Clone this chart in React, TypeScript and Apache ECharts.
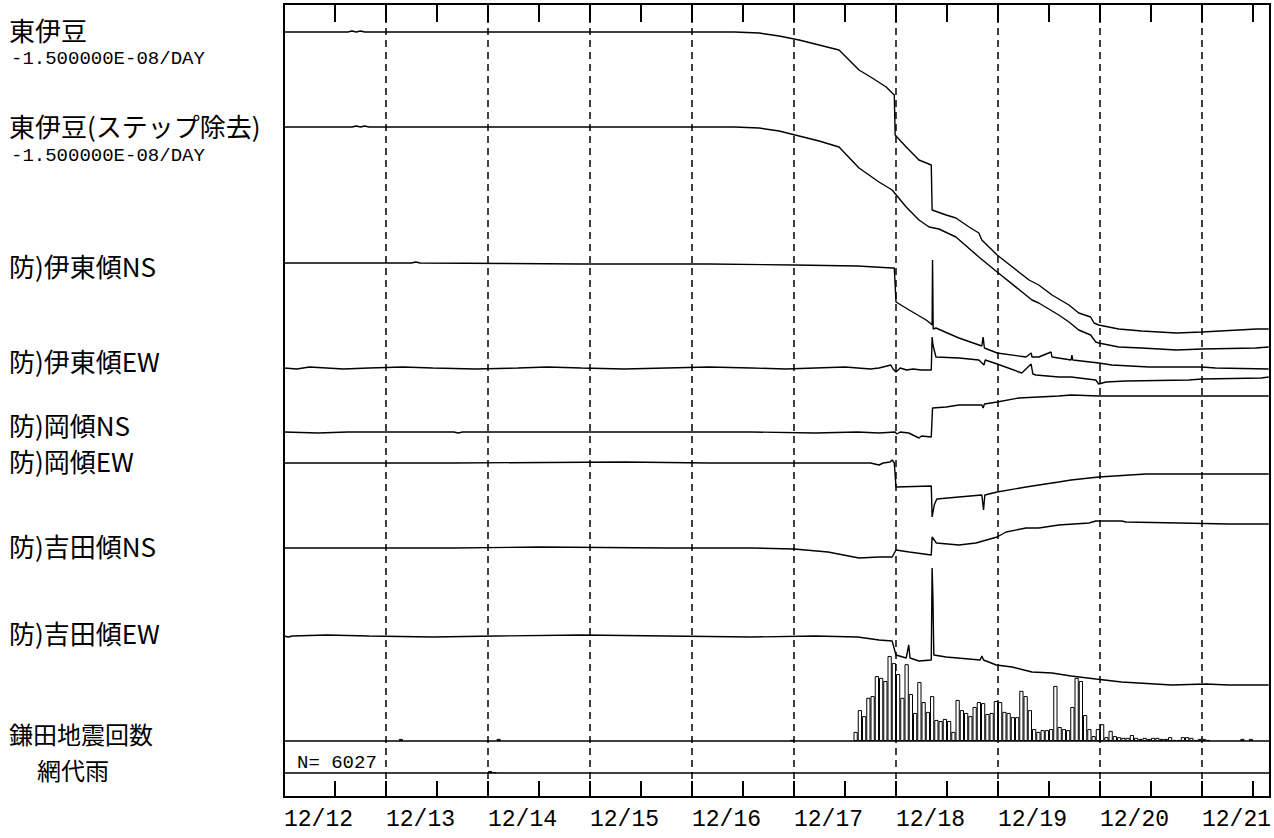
import React, { useEffect, useRef } from "react";
import * as echarts from "echarts";

// ---------- data ----------
// time axis: hours since 12/12 00:00
const HOUR_MIN = 0;
const HOUR_MAX = 232;
const DAY_LABELS = ["12/12", "12/13", "12/14", "12/15", "12/16", "12/17", "12/18", "12/19", "12/20", "12/21"];

// traces: [hour, change] (change relative to start, upward positive)
const higashiIzu: number[][] = [
  [0, 0], [15, 0], [16, 1], [17, 0], [18, 1], [19, 0], [40, 0], [60, 0], [80, 0], [95, 0], [106, 0],
  [111.8, -1], [116.5, -4], [121.2, -8], [125.9, -13], [130.6, -18], [135.3, -38], [138.4, -46],
  [141.7, -55], [143.1, -61], [143.6, -63], [143.8, -103], [146.4, -115], [149.4, -128], [152.3, -133],
  [152.5, -178], [155.8, -183], [158.1, -186], [161.2, -195], [163.5, -201], [164.2, -208],
  [167.8, -223], [175.3, -248], [177.6, -253], [180.7, -263], [184.7, -273], [187, -281],
  [189.8, -285], [190.6, -291], [191.7, -293], [196.4, -297], [201.8, -299], [210, -301],
  [216, -300], [228.9, -297], [231.7, -297],
];
const higashiIzuStep: number[][] = [
  [0, 0], [16, 0], [17, 1], [18, 0], [19, 1], [20, 0], [50, 0], [80, 0], [106, 0],
  [111.8, -1], [116.5, -4], [121.2, -9], [125.9, -14], [130.6, -20], [135.3, -41], [140, -55],
  [143.1, -63], [146.4, -80], [149.4, -93], [151.8, -100], [154.1, -102], [158.1, -110],
  [163.5, -130], [167.8, -145], [176, -173], [177.6, -176], [182.3, -188], [184.7, -195],
  [187, -203], [189.8, -208], [191, -215], [191.7, -216], [196.4, -220], [201.8, -221],
  [210, -223], [216, -222], [228.6, -221], [231.7, -220],
];
const itoNS: number[][] = [
  [0, 0], [30, 0], [31, 1], [32, 0], [70, -1], [100, -1], [120, -2], [135, -3], [143.1, -5],
  [143.6, -5], [144, -39], [147.1, -47], [151.1, -57], [152.3, -61], [152.5, -62], [152.6, 3],
  [152.75, -66], [153.4, -65], [158.8, -75], [164.2, -83], [164.5, -74], [164.8, -85],
  [167.8, -90], [174.6, -94], [175.8, -90], [176, -94], [177.6, -94], [180.5, -89], [180.7, -94],
  [185.2, -97], [185.4, -92], [185.6, -97], [191.7, -100], [194.8, -102], [203.5, -104],
  [216, -104], [219.2, -105], [231.7, -106],
];
const itoEW: number[][] = [
  [0, 0], [3, -1], [6, 1], [10, 0], [14, -1], [20, 0], [28, 1], [35, 0], [45, -1], [55, 0],
  [62, 1], [70, 0], [80, -1], [90, 0], [100, 1], [110, 0], [118, -1], [125, 0], [132, 1],
  [138, -1], [140, 0], [142.8, 3], [143.3, -1], [144, -4], [145, 0], [146.5, -2], [148, -1],
  [150, -2], [152.3, -2], [152.5, 31], [152.7, 23], [153.4, 11], [158.8, 10], [163.5, 8],
  [164.7, 3], [165, 8], [167.8, 4], [173.6, -5], [175.8, 4], [176.2, -6], [176.9, -7],
  [182.3, -9], [185.2, -9], [191, -12], [191.7, -16], [193.4, -14], [198.1, -13], [212.9, -12],
  [216, -11], [230, -10], [231.7, -9],
];
const okaNS: number[][] = [
  [0, 0], [8, -1], [15, 0], [40, 0], [41, -1], [42, 0], [80, 0], [110, 0], [125, -1], [135, 0],
  [140, -1], [143.8, 0], [144.2, -2], [145, 0], [147, -1], [149.4, -6], [150, -4], [152.3, -5],
  [152.6, 24], [155.8, 25], [158.8, 27], [164.2, 27], [164.5, 24], [164.8, 28], [167.8, 30],
  [172.9, 34], [177.6, 35], [182.3, 36], [185.2, 37], [191.7, 36], [231.7, 36],
];
const okaEW: number[][] = [
  [0, 0], [40, 0], [80, 1], [100, 0], [120, 0], [138, 0], [140, -2], [141, 0], [142.6, 1],
  [143.1, 3], [143.6, 0], [144, -24], [152.3, -23], [152.5, -54], [153, -42], [153.6, -36],
  [158.8, -34], [164.2, -32], [164.6, -47], [164.9, -32], [167.8, -29], [174.6, -24],
  [177.6, -22], [182.3, -19], [185.2, -17], [191.7, -14], [202.8, -11], [231.7, -11],
];
const yoshidaNS: number[][] = [
  [0, 0], [40, 0], [60, 1], [90, 0], [110, 0], [120, -1], [128, -4], [135.3, -10], [140, -9],
  [143.1, -9], [144, -2], [147.1, -4], [152.3, -7], [152.5, 11], [153.5, 5], [158.8, 3],
  [162.8, 5], [167.8, 11], [169.9, 16], [174.6, 20], [177.6, 20], [182.3, 23], [189.4, 25],
  [191, 27], [197.1, 27], [198.1, 26], [210.5, 25], [222.3, 24], [231.7, 24],
];
const yoshidaEW: number[][] = [
  [0, 0], [1, -1], [2, 0], [10, 1], [20, 0], [35, -1], [50, 0], [70, 1], [90, 0], [110, -1],
  [125, 0], [135, -1], [140, -4], [143.1, -5], [144, -19], [146.4, -22], [147, -9], [147.3, -22],
  [149.4, -25], [152.3, -24], [152.5, 68], [152.7, 36], [152.9, -19], [155.8, -21], [163.8, -24],
  [164.2, -20], [164.6, -24], [167.6, -29], [171.3, -31], [176, -36], [180.7, -37], [185.2, -40],
  [191, -43], [197.1, -46], [208.9, -49], [216.9, -48], [222.3, -49], [231.7, -49],
];

// 鎌田 earthquake counts per hour, starting 12/17 14:00
const QUAKE_START_HOUR = 134;
const quakeCounts: number[] = [
  26, 88, 71, 123, 128, 185, 180, 171, 242, 222, 191, 123, 219, 134, 80, 168, 111, 83, 128, 60,
  57, 63, 57, 26, 117, 88, 80, 71, 97, 111, 108, 77, 80, 114, 111, 83, 80, 68, 68, 143,
  128, 88, 34, 26, 31, 31, 34, 157, 40, 34, 31, 97, 180, 171, 74,
  34, 14, 34, 48, 11, 29, 14, 11, 9, 9, 17, 9, 6, 9, 6, 9, 9, 6, 6, 11, 3, 3, 11, 11, 9, 3, 6, 6, 3,
  0, 0, 0, 0, 0, 0, 0, 6, 0, 6, 0, 0, 0, 0,
];
const quakeIsolated: number[][] = [[27, 6], [50, 6], [119, 3]];
// 網代 rain, mm per hour
const rainMm: number[][] = [[48, 1], [49, 0.5]];

const TRACE_NAMES = [
  "東伊豆", "東伊豆(ステップ除去)", "防)伊東傾NS", "防)伊東傾EW",
  "防)岡傾NS", "防)岡傾EW", "防)吉田傾NS", "防)吉田傾EW",
];
const RATE_TEXT = "-1.500000E-08/DAY";
const QUAKE_LABEL = "鎌田地震回数";
const RAIN_LABEL = "網代雨";
const N_TEXT = "N= 6027";

// ---------- layout ----------
const TRACES = [higashiIzu, higashiIzuStep, itoNS, itoEW, okaNS, okaEW, yoshidaNS, yoshidaEW];
const TRACE_LEVEL = [765, 670, 534, 429, 365, 334, 249, 161];
const LABEL_Y = [29, 125, 265, 360, 424, 460, 545, 632];

const GRID_LEFT = 284;
const GRID_WIDTH = 986;
const CJK = '"Noto Sans CJK JP", sans-serif';
const MONO = '"Liberation Mono", "DejaVu Sans Mono", monospace';

export default function App() {
  const ref = useRef<HTMLDivElement>(null);
  useEffect(() => {
    if (!ref.current) return;
    const chart = echarts.init(ref.current, undefined, { renderer: "svg" });

    const lineSeries = TRACES.map((tr, i) => ({
      type: "line",
      xAxisIndex: 0,
      yAxisIndex: 0,
      showSymbol: false,
      symbol: "none",
      silent: true,
      data: tr.map(([h, v]) => [h, TRACE_LEVEL[i] + v]),
      lineStyle: { color: "#000", width: 1.4 },
      z: 5,
    }));

    const quakeData = quakeIsolated
      .map(([h, c]) => [h + 0.5, c])
      .concat(quakeCounts.map((c, i) => [QUAKE_START_HOUR + i + 0.5, c]))
      .filter((d) => d[1] > 0);

    const cjkText = (text: string, x: number, y: number, size = 26) => ({
      type: "text", x, y,
      style: { text, fill: "#000", font: `${size}px ${CJK}`, lineHeight: size, verticalAlign: "middle", align: "left" },
    });
    const monoText = (text: string, x: number, y: number) => ({
      type: "text", x, y,
      style: { text, fill: "#000", font: `19px ${MONO}`, lineHeight: 19, verticalAlign: "middle", align: "left" },
    });

    const labelEls: any[] = [];
    TRACE_NAMES.forEach((name, i) => labelEls.push(cjkText(name, 9, LABEL_Y[i])));
    labelEls.push(monoText(RATE_TEXT, 11, 59));
    labelEls.push(monoText(RATE_TEXT, 11, 156));
    labelEls.push(cjkText(QUAKE_LABEL, 9, 733, 24));
    labelEls.push(cjkText(RAIN_LABEL, 37, 769, 24));
    labelEls.push(monoText(N_TEXT, 297, 763));

    const xBase = { type: "value", min: HOUR_MIN, max: HOUR_MAX, interval: 12 };

    chart.setOption({
      animation: false,
      backgroundColor: "#fff",
      grid: [
        { left: GRID_LEFT, top: 4, width: GRID_WIDTH, height: 793, show: true, borderColor: "#000", borderWidth: 2, backgroundColor: "transparent", z: 10 },
        { left: GRID_LEFT, top: 641, width: GRID_WIDTH, height: 100, show: false },
        { left: GRID_LEFT, top: 741, width: GRID_WIDTH, height: 32, show: false },
      ],
      xAxis: [
        {
          ...xBase, gridIndex: 0, position: "bottom",
          axisLine: { show: false },
          axisTick: { show: true, inside: true, length: 16, lineStyle: { color: "#000", width: 2 } },
          axisLabel: {
            show: true, align: "left", margin: 11, color: "#000", fontSize: 23, fontFamily: MONO,
            formatter: (v: number) => (v % 24 === 0 ? DAY_LABELS[v / 24] ?? "" : ""),
          },
          splitLine: { show: false },
        },
        {
          ...xBase, gridIndex: 0, position: "top",
          axisLine: { show: false },
          axisTick: { show: true, inside: true, length: 18, lineStyle: { color: "#000", width: 2 } },
          axisLabel: { show: false },
          splitLine: { show: false },
        },
        {
          type: "value", min: HOUR_MIN, max: HOUR_MAX, interval: 24, gridIndex: 0, position: "bottom",
          axisLine: { show: false }, axisTick: { show: false }, axisLabel: { show: false },
          splitLine: { show: true, lineStyle: { color: "#000", width: 1.5, type: [7, 5] } },
        },
        {
          type: "value", min: HOUR_MIN, max: HOUR_MAX, gridIndex: 1, position: "bottom",
          axisLine: { show: true, lineStyle: { color: "#000", width: 1.5 } },
          axisTick: { show: false }, axisLabel: { show: false }, splitLine: { show: false },
        },
        {
          type: "value", min: HOUR_MIN, max: HOUR_MAX, gridIndex: 2, position: "bottom",
          axisLine: { show: true, lineStyle: { color: "#000", width: 1.5 } },
          axisTick: { show: false }, axisLabel: { show: false }, splitLine: { show: false },
        },
      ],
      yAxis: [
        { type: "value", gridIndex: 0, min: 0, max: 793, show: false },
        { type: "value", gridIndex: 1, min: 0, max: 285, show: false },
        { type: "value", gridIndex: 2, min: 0, max: 16, show: false },
      ],
      series: [
        ...lineSeries,
        {
          type: "bar", xAxisIndex: 3, yAxisIndex: 1, data: quakeData, barWidth: 4.25, silent: true,
          itemStyle: { color: "#fff", borderColor: "#000", borderWidth: 1 }, z: 4,
        },
        {
          type: "bar", xAxisIndex: 4, yAxisIndex: 2, data: rainMm.map(([h, v]) => [h + 0.5, v]), barWidth: 4.25, silent: true,
          itemStyle: { color: "#000", borderColor: "#000", borderWidth: 1 }, z: 4,
        },
      ],
      graphic: labelEls,
    });
    return () => chart.dispose();
  }, []);
  return <div ref={ref} style={{ position: "fixed", left: 0, top: 0, width: 1274, height: 838, background: "#fff" }} />;
}
